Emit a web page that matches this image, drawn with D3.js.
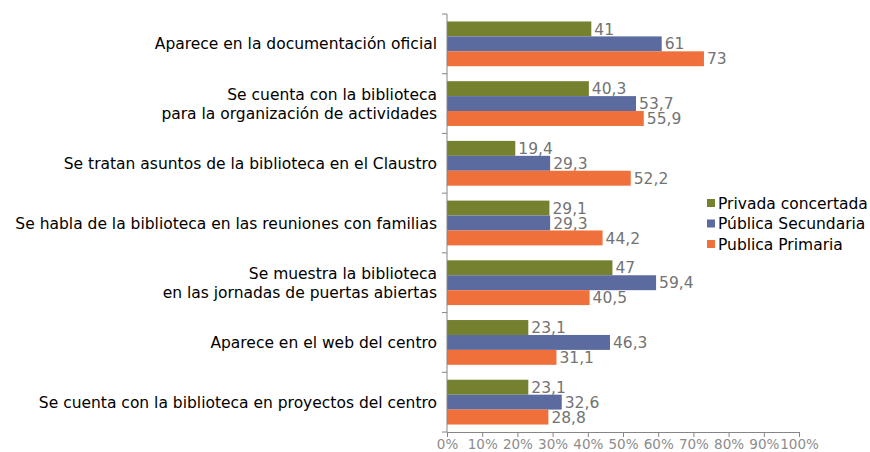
<!DOCTYPE html>
<html>
<head>
<meta charset="utf-8">
<script src="https://d3js.org/d3.v7.min.js"></script>
<style>
  body { margin: 0; background: #fff; }
  svg { display: block; font-family: "DejaVu Sans", Verdana, sans-serif; }
</style>
</head>
<body>
<div id="chart"></div>
<script>
const categories = [
  "Aparece en la documentación oficial",
  "Se cuenta con la biblioteca\npara la organización de actividades",
  "Se tratan asuntos de la biblioteca en el Claustro",
  "Se habla de la biblioteca en las reuniones con familias",
  "Se muestra la biblioteca\nen las jornadas de puertas abiertas",
  "Aparece en el web del centro",
  "Se cuenta con la biblioteca en proyectos del centro"
];
const seriesNames = ["Privada concertada", "Pública Secundaria", "Publica Primaria"];
const privada    = [41, 40.3, 19.4, 29.1, 47, 23.1, 23.1];
const secundaria = [61, 53.7, 29.3, 29.3, 59.4, 46.3, 32.6];
const primaria   = [73, 55.9, 52.2, 44.2, 40.5, 31.1, 28.8];
const xTicks = [0, 10, 20, 30, 40, 50, 60, 70, 80, 90, 100];
const colors = ["#768130", "#5b6ba0", "#f0703c"];

const W = 870, H = 452;
const margin = {top: 14, right: 71, bottom: 20, left: 447};
const width = W - margin.left - margin.right,
      height = H - margin.top - margin.bottom;

const svg = d3.select("#chart").append("svg")
    .attr("width", W).attr("height", H)
  .append("g")
    .attr("transform", `translate(${margin.left},${margin.top})`);

const x = d3.scaleLinear().domain([0, 100]).range([0, width]);
const y = d3.scaleBand().domain(d3.range(categories.length)).range([0, height]);
const inner = d3.scaleBand().domain([0, 1, 2])
    .range([y.bandwidth() * 0.125, y.bandwidth() * 0.875]);

const data = [privada, secundaria, primaria];
const fmt = v => String(v).replace(".", ",");

// bars + value labels
categories.forEach((c, i) => {
  const g = svg.append("g").attr("transform", `translate(0,${y(i)})`);
  data.forEach((s, j) => {
    g.append("rect")
      .attr("x", 0)
      .attr("y", inner(j))
      .attr("width", x(s[i]))
      .attr("height", inner.bandwidth())
      .attr("fill", colors[j]);
    g.append("text")
      .attr("x", x(s[i]) + 3)
      .attr("y", inner(j) + inner.bandwidth() / 2)
      .attr("dy", "0.36em")
      .attr("fill", "#737373")
      .style("font-size", "15.5px")
      .text(fmt(s[i]));
  });
});

// y axis line + ticks at band boundaries
svg.append("line")
  .attr("x1", 0).attr("x2", 0).attr("y1", 0).attr("y2", height)
  .attr("stroke", "#868686");
d3.range(categories.length + 1).forEach(i => {
  const yy = i < categories.length ? y(i) : height;
  svg.append("line")
    .attr("x1", -5).attr("x2", 0).attr("y1", yy).attr("y2", yy)
    .attr("stroke", "#868686");
});

// category labels
categories.forEach((c, i) => {
  const lines = c.split("\n");
  const t = svg.append("text")
    .attr("text-anchor", "end")
    .attr("fill", "#000")
    .style("font-size", "15.5px")
    .attr("transform", `translate(-10,${y(i) + y.bandwidth() / 2})`);
  lines.forEach((l, k) => {
    t.append("tspan")
      .attr("x", 0)
      .attr("y", (k - (lines.length - 1) / 2) * 19)
      .attr("dy", "0.36em")
      .text(l);
  });
});

// x axis
const xAxis = svg.append("g")
    .attr("transform", `translate(0,${height})`)
    .call(d3.axisBottom(x).tickValues(xTicks).tickFormat(d => d + "%").tickSize(5).tickSizeOuter(0));
xAxis.select(".domain").attr("stroke", "#868686");
xAxis.selectAll(".tick line").attr("stroke", "#868686");
xAxis.selectAll(".tick text")
  .attr("fill", "#8c8c8c")
  .attr("y", 7)
  .style("font-size", "13.5px")
  .style("font-family", "\"DejaVu Sans\", Verdana, sans-serif");

// legend
const legend = svg.append("g").attr("transform", `translate(${707 - margin.left},${203 - margin.top})`);
seriesNames.forEach((n, j) => {
  const row = legend.append("g").attr("transform", `translate(0,${j * 20.5})`);
  row.append("rect")
    .attr("x", 0).attr("y", -4).attr("width", 8).attr("height", 8)
    .attr("fill", colors[j]);
  row.append("text")
    .attr("x", 11).attr("y", 0).attr("dy", "0.36em")
    .attr("fill", "#000")
    .style("font-size", "15.5px")
    .text(n);
});
</script>
</body>
</html>
